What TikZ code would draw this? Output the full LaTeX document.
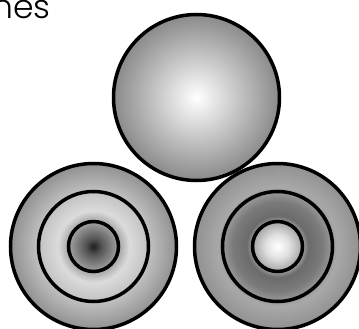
\documentclass[tikz,border=0pt]{standalone}
\usepackage{fontspec}
\setmainfont{Poppins}[UprightFont=* Light]
\definecolor{edgegrey}{HTML}{8A8A8A}
\definecolor{ringgrey}{HTML}{919191}
\pgfdeclareradialshading{plainball}{\pgfpoint{0bp}{0bp}}{color(0bp)=(white); color(25bp)=(edgegrey); color(50bp)=(edgegrey)}
\pgfdeclareradialshading{darkcore}{\pgfpoint{0bp}{0bp}}{%
  color(0bp)=(black!88); color(2.4bp)=(black!67); color(6.9bp)=(black!40);
  color(10.8bp)=(black!14); color(16bp)=(black!23); color(24.4bp)=(black!42);
  color(25bp)=(ringgrey); color(50bp)=(ringgrey)}
\pgfdeclareradialshading{brightcore}{\pgfpoint{0bp}{0bp}}{%
  color(0bp)=(white); color(3.6bp)=(black!12); color(7.2bp)=(black!34);
  color(9.3bp)=(black!58); color(13.5bp)=(black!52); color(18bp)=(black!34);
  color(25bp)=(ringgrey); color(50bp)=(ringgrey)}

\begin{document}
\begin{tikzpicture}[x=1pt,y=-1pt,
  ball/.style={circle,draw,line width=3.5pt,inner sep=0pt,minimum size=166pt},
  ring/.style={circle,draw,line width=3.5pt,inner sep=0pt}]
\useasboundingbox (0,0) rectangle (359,329);
\node[anchor=base west,inner sep=0pt,font=\fontsize{33}{33}\selectfont] (title) at (-8,19) {nes};
\node[ball,shading=plainball] (top) at (196.5,97.5) {};
\foreach \c/\nm/\shd in {93.5/bl/darkcore,277.5/br/brightcore}{
  \node[ball,shading=\shd] (\nm) at (\c,246.5) {};
  \node[ring,minimum size=110pt] (\nm-mid) at (\nm) {};
  \node[ring,minimum size=50pt] (\nm-in) at (\nm) {};
}
\end{tikzpicture}
\end{document}
